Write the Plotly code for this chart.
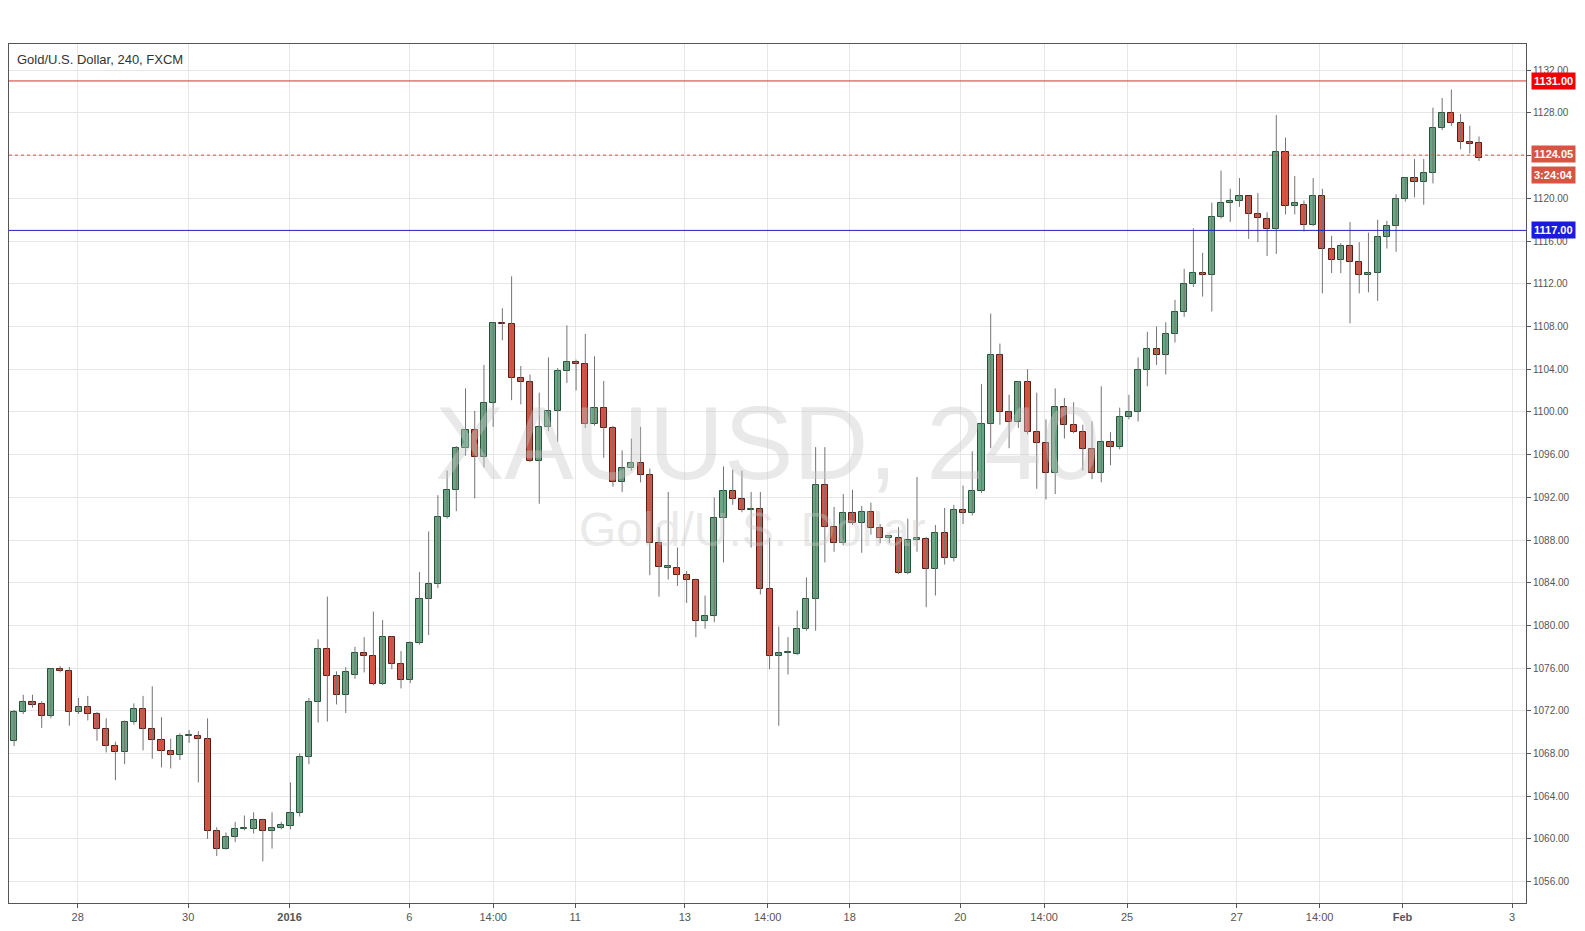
import plotly.graph_objects as go

# 4h XAUUSD candles
opens = [1069.2, 1071.9, 1072.8, 1072.6, 1071.5, 1075.9, 1075.7, 1071.9, 1072.4, 1071.7,
         1070.3, 1068.7, 1068.1, 1071.0, 1072.2, 1070.3, 1069.3, 1068.2, 1067.9, 1069.6,
         1069.6, 1069.4, 1060.7, 1059.1, 1060.2, 1060.9, 1060.9, 1061.8, 1060.7, 1061.0,
         1061.2, 1062.4, 1067.7, 1072.8, 1077.8, 1075.3, 1073.5, 1075.4, 1077.4, 1077.1,
         1074.5, 1078.9, 1076.4, 1074.9, 1078.4, 1082.5, 1083.9, 1090.2, 1092.7, 1096.6,
         1098.3, 1095.8, 1100.8, 1108.3, 1108.2, 1103.2, 1102.8, 1095.4, 1098.6, 1100.1,
         1103.8, 1104.7, 1104.5, 1098.9, 1100.4, 1098.5, 1093.4, 1094.7, 1095.2, 1094.1,
         1087.7, 1085.4, 1085.4, 1084.7, 1084.3, 1080.4, 1080.9, 1090.1, 1092.6, 1091.8,
         1090.8, 1090.9, 1083.4, 1077.1, 1077.4, 1077.3, 1079.7, 1082.5, 1093.2, 1089.2,
         1087.7, 1090.5, 1089.6, 1090.6, 1089.1, 1088.2, 1088.2, 1084.9, 1088.0, 1088.1,
         1085.3, 1088.7, 1086.3, 1090.8, 1090.5, 1092.6, 1098.9, 1105.3, 1100.0, 1099.1,
         1102.8, 1098.1, 1097.1, 1094.3, 1100.5, 1098.8, 1098.1, 1096.5, 1094.3, 1097.2,
         1096.7, 1099.5, 1100.0, 1103.9, 1105.9, 1105.3, 1107.3, 1109.4, 1112.0, 1113.0,
         1112.8, 1118.3, 1119.6, 1119.8, 1120.2, 1118.5, 1118.1, 1117.1, 1124.3, 1119.3,
         1119.4, 1117.5, 1120.2, 1115.3, 1114.2, 1115.5, 1114.0, 1112.8, 1113.0, 1116.4,
         1117.4, 1119.9, 1121.9, 1121.5, 1122.4, 1126.6, 1128.0, 1127.1, 1125.3, 1125.2]
highs = [1072.1, 1073.5, 1073.5, 1072.9, 1076.0, 1076.2, 1076.1, 1073.2, 1073.4, 1071.9,
         1071.3, 1069.1, 1071.1, 1072.7, 1073.4, 1074.3, 1071.4, 1069.4, 1069.9, 1070.2,
         1070.1, 1071.3, 1061.1, 1060.6, 1061.6, 1062.2, 1062.5, 1061.9, 1062.5, 1061.6,
         1065.3, 1068.0, 1073.2, 1078.7, 1082.7, 1075.7, 1076.1, 1078.0, 1078.9, 1081.3,
         1080.5, 1079.0, 1077.6, 1078.5, 1085.0, 1088.8, 1092.2, 1094.5, 1096.8, 1102.2,
         1100.1, 1104.4, 1108.4, 1109.7, 1112.7, 1104.3, 1103.5, 1101.8, 1105.1, 1104.1,
         1108.1, 1104.9, 1107.3, 1105.2, 1102.9, 1098.7, 1096.4, 1097.5, 1098.6, 1094.7,
         1089.2, 1092.5, 1087.3, 1085.1, 1084.4, 1082.8, 1092.0, 1094.9, 1094.6, 1094.5,
         1092.5, 1092.5, 1088.2, 1079.9, 1078.9, 1081.4, 1084.5, 1096.7, 1096.7, 1091.1,
         1092.3, 1092.7, 1091.2, 1091.5, 1089.5, 1088.5, 1089.2, 1090.0, 1093.9, 1088.3,
         1089.4, 1091.0, 1091.3, 1093.1, 1096.3, 1102.6, 1109.2, 1106.4, 1101.6, 1102.9,
         1104.0, 1101.8, 1099.3, 1102.2, 1101.3, 1100.9, 1098.8, 1099.1, 1102.4, 1098.1,
         1100.4, 1101.6, 1105.1, 1107.5, 1108.0, 1108.4, 1110.5, 1113.4, 1117.2, 1114.9,
         1119.6, 1122.6, 1120.9, 1121.9, 1120.2, 1120.5, 1118.7, 1127.8, 1125.7, 1122.1,
         1119.8, 1121.9, 1120.9, 1116.5, 1115.8, 1117.8, 1115.9, 1116.8, 1118.0, 1117.9,
         1120.4, 1122.0, 1123.7, 1123.7, 1128.5, 1129.4, 1130.2, 1127.9, 1126.8, 1125.8]
lows = [1068.7, 1071.7, 1072.3, 1070.4, 1071.3, 1075.6, 1070.6, 1071.7, 1071.1, 1069.2,
        1068.1, 1065.5, 1067.0, 1070.7, 1068.3, 1067.5, 1066.7, 1066.6, 1067.4, 1069.0,
        1065.3, 1060.0, 1058.4, 1059.0, 1059.7, 1060.8, 1060.5, 1057.9, 1059.1, 1060.9,
        1060.9, 1062.1, 1067.0, 1070.9, 1071.0, 1072.6, 1071.8, 1075.0, 1075.6, 1074.4,
        1074.4, 1075.9, 1074.1, 1074.6, 1078.2, 1079.1, 1083.5, 1090.0, 1090.7, 1095.9,
        1091.9, 1094.8, 1098.6, 1106.7, 1101.1, 1100.7, 1095.3, 1091.4, 1098.2, 1097.2,
        1102.7, 1102.0, 1098.5, 1098.7, 1095.7, 1093.0, 1092.5, 1094.5, 1093.4, 1084.7,
        1082.7, 1084.3, 1083.7, 1082.1, 1078.9, 1079.7, 1080.3, 1085.9, 1091.3, 1090.6,
        1087.3, 1082.9, 1075.9, 1070.6, 1075.4, 1077.2, 1079.5, 1079.5, 1085.9, 1086.9,
        1087.5, 1089.4, 1086.8, 1088.5, 1087.7, 1087.7, 1084.8, 1084.8, 1086.9, 1081.7,
        1082.8, 1085.7, 1086.0, 1089.5, 1090.3, 1092.4, 1096.6, 1098.8, 1096.6, 1098.5,
        1097.9, 1092.8, 1091.8, 1092.3, 1097.5, 1098.0, 1094.5, 1093.7, 1093.4, 1095.0,
        1096.5, 1099.3, 1099.1, 1102.4, 1104.4, 1103.5, 1106.5, 1108.9, 1111.7, 1110.8,
        1109.4, 1118.1, 1117.8, 1119.2, 1116.2, 1115.9, 1114.6, 1114.8, 1118.5, 1118.5,
        1116.9, 1117.4, 1111.1, 1113.0, 1113.0, 1108.3, 1111.1, 1111.2, 1110.4, 1115.3,
        1115.0, 1119.7, 1120.1, 1119.4, 1121.4, 1126.4, 1126.8, 1124.6, 1124.2, 1123.5]
closes = [1071.9, 1072.8, 1072.5, 1071.5, 1075.9, 1075.7, 1071.9, 1072.4, 1071.7, 1070.3,
          1068.7, 1068.1, 1071.0, 1072.2, 1070.3, 1069.3, 1068.2, 1067.9, 1069.6, 1069.6,
          1069.4, 1060.7, 1059.1, 1060.2, 1060.9, 1060.9, 1061.8, 1060.7, 1061.0, 1061.3,
          1062.4, 1067.7, 1072.8, 1077.8, 1075.3, 1073.5, 1075.6, 1077.4, 1077.1, 1074.5,
          1078.9, 1076.4, 1074.9, 1078.4, 1082.5, 1083.9, 1090.2, 1092.7, 1096.6, 1098.3,
          1095.8, 1100.8, 1108.3, 1108.2, 1103.2, 1102.8, 1095.4, 1098.6, 1100.1, 1103.8,
          1104.7, 1104.5, 1098.9, 1100.4, 1098.5, 1093.4, 1094.7, 1095.2, 1094.1, 1087.7,
          1085.5, 1085.4, 1084.7, 1084.3, 1080.4, 1080.9, 1090.1, 1092.6, 1091.8, 1090.8,
          1090.8, 1083.4, 1077.1, 1077.4, 1077.4, 1079.7, 1082.5, 1093.2, 1089.2, 1087.7,
          1090.5, 1089.6, 1090.6, 1089.1, 1088.2, 1088.2, 1084.9, 1088.0, 1088.0, 1085.3,
          1088.7, 1086.3, 1090.8, 1090.5, 1092.6, 1098.9, 1105.3, 1100.0, 1099.1, 1102.8,
          1098.1, 1097.1, 1094.3, 1100.5, 1098.8, 1098.1, 1096.5, 1094.3, 1097.2, 1096.7,
          1099.5, 1100.0, 1103.9, 1105.9, 1105.3, 1107.3, 1109.4, 1112.0, 1113.0, 1112.8,
          1118.3, 1119.6, 1119.8, 1120.2, 1118.5, 1118.2, 1117.1, 1124.3, 1119.3, 1119.6,
          1117.5, 1120.2, 1115.3, 1114.2, 1115.5, 1114.0, 1112.8, 1113.0, 1116.4, 1117.4,
          1119.9, 1121.9, 1121.5, 1122.4, 1126.6, 1128.0, 1127.1, 1125.3, 1125.1, 1123.8]

tick_pos = [6.9, 18.9, 29.9, 42.9, 52.0, 60.9, 72.8, 81.8, 90.7, 102.7, 111.8, 120.8, 132.7, 141.7, 150.7, 162.6]
tick_text = ["28", "30", "<b>2016</b>", "6", "14:00", "11", "13", "14:00", "18", "20", "14:00", "25", "27", "14:00", "<b>Feb</b>", "3"]
y_ticks = list(range(1056, 1133, 4))

resistance = 1131.00
support = 1117.00
last_price = 1124.05

idx = list(range(len(opens)))
UP, DOWN = "#6ba583", "#d75442"

# wicks as one broken line
wx, wy = [], []
for i in idx:
    wx += [i, i, None]
    wy += [lows[i], highs[i], None]

fig = go.Figure()
fig.add_trace(go.Scatter(x=wx, y=wy, mode="lines", line=dict(color="#737375", width=1),
                         hoverinfo="skip", showlegend=False))
base = [min(o, c) for o, c in zip(opens, closes)]
height = [max(abs(c - o), 0.15) for o, c in zip(opens, closes)]
up = [c >= o for o, c in zip(opens, closes)]
fig.add_trace(go.Bar(x=idx, y=height, base=base, width=0.66,
                     marker=dict(color=[UP if u else DOWN for u in up],
                                 line=dict(color=["#225437" if u else "#5b1a13" for u in up], width=1)),
                     showlegend=False))

fig.add_hline(y=resistance, line=dict(color="#d32f2f", width=1))
fig.add_hline(y=support, line=dict(color="#1e22c8", width=1))
fig.add_hline(y=last_price, line=dict(color="#d75442", width=1, dash="dot"))

def price_box(y, text, color, yshift=0):
    fig.add_annotation(x=1.003, xref="paper", y=y, yref="y", text="<b>%s</b>" % text,
                       showarrow=False, xanchor="left", yshift=yshift, bgcolor=color,
                       font=dict(color="white", size=11, family="Arial"), borderpad=2)

price_box(resistance, "1131.00", "#f20000")
price_box(support, "1117.00", "#1a1ae0")
price_box(last_price, "1124.05", "#d75442", yshift=1)
price_box(last_price, "3:24:04", "#d75442", yshift=-20)

fig.add_annotation(x=0.5, y=0.536, xref="paper", yref="paper", text="XAUUSD, 240", showarrow=False,
                   font=dict(size=104, color="rgba(200,200,200,0.4)", family="Arial"))
fig.add_annotation(x=0.49, y=0.435, xref="paper", yref="paper", text="Gold/U.S. Dollar", showarrow=False,
                   font=dict(size=48, color="rgba(200,200,200,0.4)", family="Arial"))
fig.add_annotation(x=0.004, y=0.993, xref="paper", yref="paper", text="Gold/U.S. Dollar, 240, FXCM",
                   showarrow=False, xanchor="left", yanchor="top",
                   font=dict(size=13, color="#333", family="Arial"))

fig.update_layout(
    width=1585, height=931, margin=dict(l=1, r=67, t=36, b=36),
    paper_bgcolor="white", plot_bgcolor="white", bargap=0,
    xaxis=dict(range=[-0.55, 164.1], tickvals=tick_pos, ticktext=tick_text,
               showgrid=True, gridcolor="#e6e6e6", zeroline=False,
               showline=True, linecolor="#555", mirror=True, ticks="outside", ticklen=4,
               tickcolor="#555", tickfont=dict(size=11, color="#555", family="Arial")),
    yaxis=dict(range=[1054.0, 1134.46], side="right", tickvals=y_ticks,
               ticktext=["%.2f" % v for v in y_ticks], showgrid=True, gridcolor="#e6e6e6",
               zeroline=False, showline=True, linecolor="#555", mirror=True, ticks="outside",
               ticklen=4, tickcolor="#555", tickfont=dict(size=10, color="#555", family="Arial")),
)
fig.write_html("out.html")
